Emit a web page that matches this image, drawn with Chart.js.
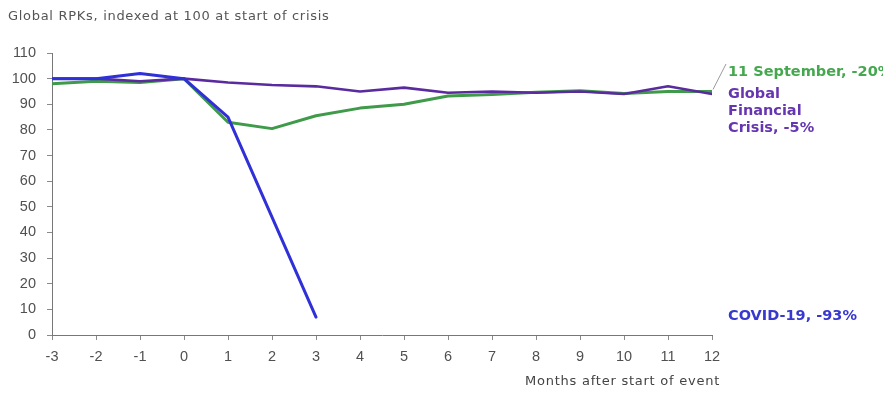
<!DOCTYPE html>
<html>
<head>
<meta charset="utf-8">
<script src="https://cdn.jsdelivr.net/npm/chart.js@4.4.1/dist/chart.umd.min.js"></script>
<style>
  html, body { margin: 0; padding: 0; background: #ffffff; }
  #wrap { width: 883px; height: 393px; position: relative; }
  canvas { display: block; }
</style>
</head>
<body>
<div id="wrap"><canvas id="rpk" width="883" height="393"></canvas></div>
<script>
// Months relative to the start of each crisis
const months = [-3, -2, -1, 0, 1, 2, 3, 4, 5, 6, 7, 8, 9, 10, 11, 12];
const monthLabels = ['-3', '-2', '-1', '0', '1', '2', '3', '4', '5', '6', '7', '8', '9', '10', '11', '12'];

// Global RPKs, indexed at 100 at start of crisis
const covid19      = [100, 100, 102, 100, 85, 46, 7];
const gfc          = [100, 100, 99, 100, 98.5, 97.5, 97, 95, 96.5, 94.5, 95, 94.5, 95, 94, 97, 94];
const september11  = [98, 99, 98.5, 100, 83, 80.5, 85.5, 88.5, 90, 93.2, 93.8, 94.7, 95.3, 94.2, 95, 95];

const yTicks = [0, 10, 20, 30, 40, 50, 60, 70, 80, 90, 100, 110];

const seriesNames = {
  covid: 'COVID-19, -93%',
  gfc: ['Global', 'Financial', 'Crisis, -5%'],
  sep: '11 September, -20%'
};
const chartTitle = 'Global RPKs, indexed at 100 at start of crisis';
const xAxisTitle = 'Months after start of event';

const BLUE = '#3030d8';
const PURPLE = '#5a2b9f';
const GREEN = '#3f9a4a';

function toPoints(values) {
  return values.map((v, i) => ({ x: months[i], y: v }));
}

const FONT = '"Liberation Sans", Arial, sans-serif';
const TEXT_FONT = '"DejaVu Sans", "Liberation Sans", sans-serif';

// Draws the chart heading, the axis caption and the series end labels
const annotations = {
  id: 'annotations',
  afterDraw(chart) {
    const ctx = chart.ctx;
    const area = chart.chartArea;
    const xs = chart.scales.x;
    const ys = chart.scales.y;
    ctx.save();
    ctx.textBaseline = 'middle';

    ctx.font = '13px ' + TEXT_FONT;
    ctx.letterSpacing = '0.7px';
    ctx.fillStyle = '#555555';
    ctx.textAlign = 'left';
    ctx.fillText(chartTitle, 8, 17);

    ctx.letterSpacing = '0.75px';
    ctx.fillStyle = '#444444';
    ctx.textAlign = 'right';
    ctx.fillText(xAxisTitle, area.right + 8, 382);
    ctx.letterSpacing = '0px';

    const lx = area.right + 16;

    // leader from the end of the lines to the 11 September label
    const endX = xs.getPixelForValue(months[months.length - 1]);
    const endY = ys.getPixelForValue(september11[september11.length - 1]);
    ctx.strokeStyle = '#9a9a9a';
    ctx.lineWidth = 1;
    ctx.beginPath();
    ctx.moveTo(endX + 1, endY - 2);
    ctx.lineTo(lx - 2, 64);
    ctx.stroke();

    ctx.textAlign = 'left';
    ctx.font = 'bold 14.5px ' + TEXT_FONT;
    ctx.fillStyle = '#45a84f';
    ctx.fillText(seriesNames.sep, lx, 72);

    ctx.fillStyle = '#6636b0';
    seriesNames.gfc.forEach((line, i) => ctx.fillText(line, lx, 94 + i * 17));

    ctx.fillStyle = '#3838d0';
    ctx.fillText(seriesNames.covid, lx, 316);

    ctx.restore();
  }
};

new Chart(document.getElementById('rpk'), {
  type: 'line',
  data: {
    datasets: [
      { label: 'COVID-19', data: toPoints(covid19), borderColor: BLUE, borderWidth: 3 },
      { label: 'Global Financial Crisis', data: toPoints(gfc), borderColor: PURPLE, borderWidth: 2.6 },
      { label: '11 September', data: toPoints(september11), borderColor: GREEN, borderWidth: 3 }
    ]
  },
  options: {
    responsive: false,
    animation: false,
    devicePixelRatio: 1,
    elements: {
      point: { radius: 0, hoverRadius: 0 },
      line: { tension: 0, fill: false, borderCapStyle: 'round', borderJoinStyle: 'round' }
    },
    layout: { padding: { top: 53, right: 171, left: 0, bottom: 0 } },
    plugins: {
      legend: { display: false },
      title: { display: false },
      tooltip: { enabled: false }
    },
    scales: {
      x: {
        type: 'linear',
        min: months[0],
        max: months[months.length - 1],
        afterBuildTicks(scale) {
          scale.ticks = months.map(v => ({ value: v }));
        },
        afterFit(scale) { scale.height = 58; },
        ticks: {
          autoSkip: false,
          maxRotation: 0,
          padding: 8,
          color: '#505050',
          font: { family: FONT, size: 14.5 },
          callback(value) { return monthLabels[months.indexOf(value)]; }
        },
        grid: { drawOnChartArea: false, drawTicks: true, tickLength: 5, color: '#8a8a8a' },
        border: { display: true, color: '#777777', width: 1 }
      },
      y: {
        min: yTicks[0],
        max: yTicks[yTicks.length - 1],
        afterBuildTicks(scale) {
          scale.ticks = yTicks.map(v => ({ value: v }));
        },
        afterFit(scale) { scale.width = 52; },
        ticks: {
          padding: 11,
          color: '#505050',
          font: { family: FONT, size: 14.5 }
        },
        grid: { drawOnChartArea: false, drawTicks: true, tickLength: 5, color: '#8a8a8a' },
        border: { display: true, color: '#777777', width: 1 }
      }
    }
  },
  plugins: [annotations]
});
</script>
</body>
</html>
